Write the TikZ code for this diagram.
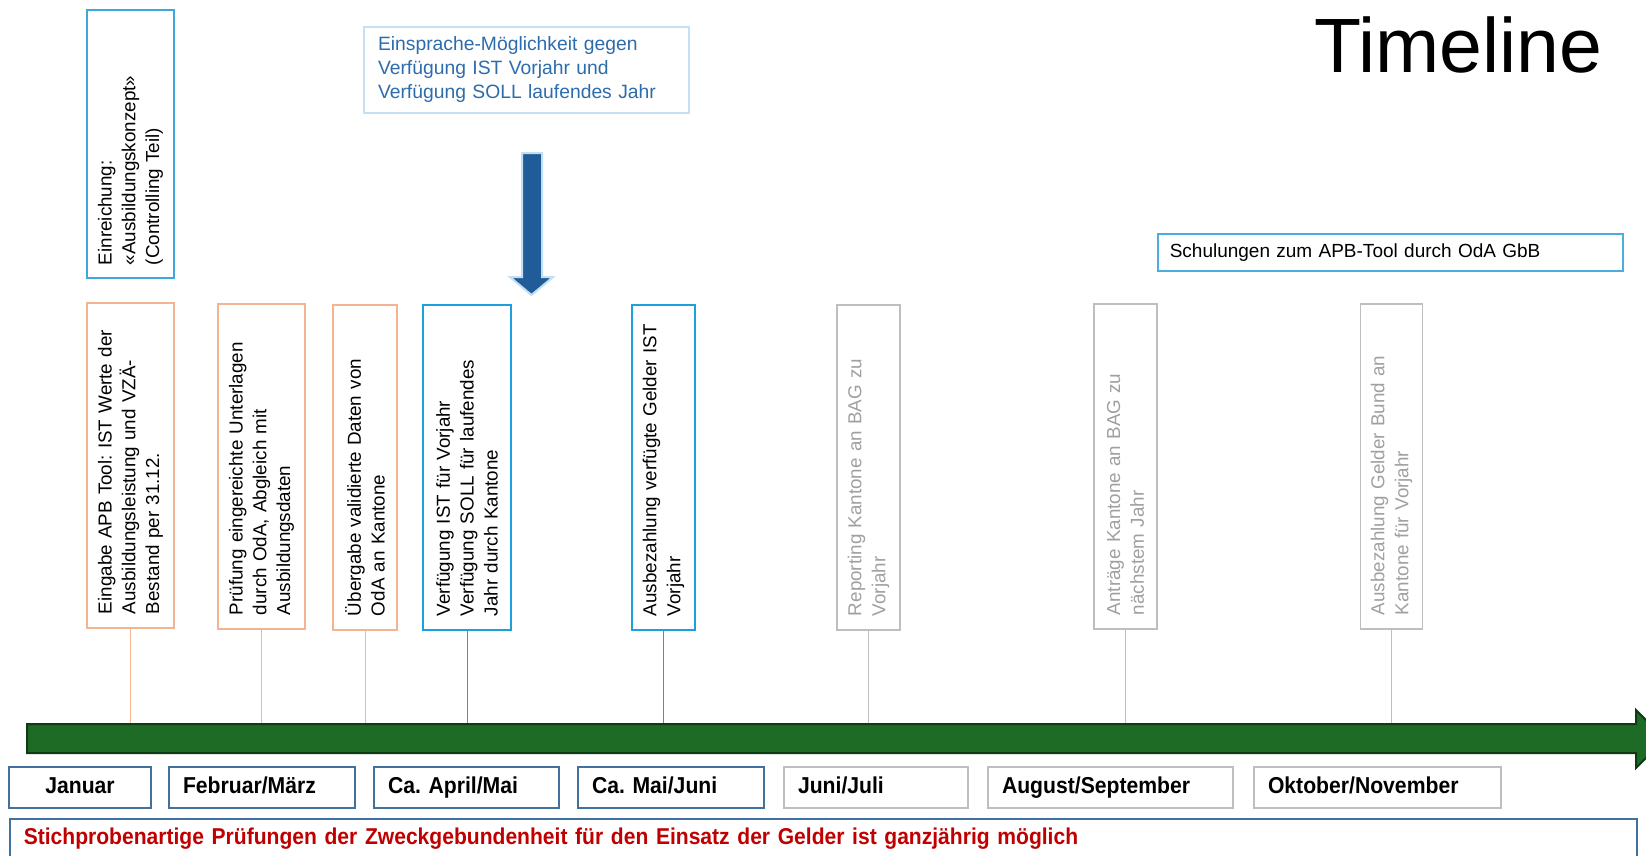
\documentclass[tikz,border=0pt]{standalone}
\usepackage{fontspec}
\setmainfont{Liberation Sans}
\newfontfamily\narrowfont[FakeStretch=0.92]{Liberation Sans}
\usetikzlibrary{positioning}
\frenchspacing
\definecolor{orB}{RGB}{245,180,145}
\definecolor{blB}{RGB}{30,160,220}
\definecolor{einB}{RGB}{60,168,222}
\definecolor{grB}{RGB}{190,190,190}
\definecolor{grT}{RGB}{160,160,160}
\definecolor{esB}{RGB}{195,225,242}
\definecolor{esT}{RGB}{44,108,172}
\definecolor{arrF}{RGB}{31,92,152}
\definecolor{arrB}{RGB}{195,222,242}
\definecolor{greenF}{RGB}{30,107,38}
\definecolor{greenB}{RGB}{14,58,20}
\definecolor{mB}{RGB}{65,113,156}
\definecolor{redT}{RGB}{192,0,0}
\definecolor{scB}{RGB}{75,172,224}
\newcommand{\vfont}{\frenchspacing\fontsize{18.8}{23.8}\selectfont}
\newcommand{\mfont}{\frenchspacing\narrowfont\bfseries\fontsize{23}{26}\selectfont}
\newcommand{\rfont}{\frenchspacing\narrowfont\bfseries\fontsize{22.9}{26}\selectfont}
\newcommand{\efont}{\frenchspacing\fontsize{19.3}{24}\selectfont}
\newcommand{\sfont}{\frenchspacing\fontsize{19}{22}\selectfont}
\newcommand{\tfont}{\fontsize{77}{80}\selectfont}
\begin{document}
\begin{tikzpicture}[x=1pt,y=-1pt,
  vbox/.style={rotate=90, draw, line width=1.3pt, align=left, inner xsep=14pt, inner ysep=0pt,
    minimum width=325pt, text width=297pt, font=\vfont},
  conn/.style={line width=1pt},
  mbox/.style={draw=mB, line width=1.5pt, minimum height=41pt, inner xsep=14pt, inner ysep=0pt,
    align=left, font=\mfont, text height=16.5pt, text depth=5pt},
  gbox/.style={mbox, draw=grB}
]
\clip (0,0) rectangle (1646,856);
\fill[white] (0,0) rectangle (1646,856);

% title
\node[font=\tfont, anchor=base west, inner sep=0pt] (title) at (1314,73) {Timeline};

% Einreichung box
\node[vbox, draw=einB, minimum width=268pt, text width=242pt, minimum height=87pt, inner xsep=13pt] (ein) at (130.5,144) {Einreichung:\\«Ausbildungskonzept»\\(Controlling Teil)};

% Einsprache box
\node[draw=esB, line width=1.3pt, minimum width=325pt, minimum height=86pt, text width=297pt,
  inner xsep=14pt, inner ysep=0pt, align=left, text=esT, font=\efont] (es) at (526.5,70)
  {Einsprache-Möglichkeit gegen\\Verfügung IST Vorjahr und\\Verfügung SOLL laufendes Jahr};

% blue block arrow
\draw[draw=arrB, line width=2pt, fill=arrF, line join=miter]
  (522,153) -- (542,153) -- (542,277) -- (553,277) -- (531.5,295) -- (510,277) -- (522,277) -- cycle;

% Schulungen box
\node[draw=scB, line width=1.5pt, minimum width=465pt, minimum height=37pt, text width=441pt,
  inner xsep=12pt, inner ysep=0pt, align=left, font=\sfont, anchor=north west] (sch) at (1157,233)
  {Schulungen zum APB-Tool durch OdA GbB};

% vertical boxes
\node[vbox, draw=orB, minimum height=87pt] (b1) at (130.5,465.5)
  {Eingabe APB Tool: IST Werte der\\Ausbildungsleistung und VZÄ-\\Bestand per 31.12.};
\node[vbox, draw=orB, minimum height=87pt] (b2) at (261.5,466.5)
  {Prüfung eingereichte Unterlagen\\durch OdA, Abgleich mit\\Ausbildungsdaten};
\node[vbox, draw=orB, minimum height=64pt] (b3) at (365,467.5)
  {Übergabe validierte Daten von\\OdA an Kantone};
\node[vbox, draw=blB, minimum height=88pt] (b4) at (467,467.5)
  {Verfügung IST für Vorjahr\\Verfügung SOLL für laufendes\\Jahr durch Kantone};
\node[vbox, draw=blB, minimum height=63pt] (b5) at (663.5,467.5)
  {Ausbezahlung verfügte Gelder IST\\Vorjahr};
\node[vbox, draw=grB, text=grT, minimum height=63pt] (b6) at (868.5,467.5)
  {Reporting Kantone an BAG zu\\Vorjahr};
\node[vbox, draw=grB, text=grT, minimum height=63pt] (b7) at (1125.5,466.5)
  {Anträge Kantone an BAG zu\\nächstem Jahr};
\node[vbox, draw=grB, text=grT, minimum height=62pt] (b8) at (1391.5,466.5)
  {Ausbezahlung Gelder Bund an\\Kantone für Vorjahr};

% timeline arrow top
\coordinate (tltop) at (0,724);

% connectors
\draw[conn, orB] (b1.west) -- (b1.west |- tltop);
\draw[conn, orB] (b2.west) -- (b2.west |- tltop);
\draw[conn, orB] (b3.west) -- (b3.west |- tltop);
\draw[conn, blB] (b4.west) -- (b4.west |- tltop);
\draw[conn, blB] (b5.west) -- (b5.west |- tltop);
\draw[conn, grB] (b6.west) -- (b6.west |- tltop);
\draw[conn, grB] (b7.west) -- (b7.west |- tltop);
\draw[conn, grB] (b8.west) -- (b8.west |- tltop);

% green timeline arrow
\draw[draw=greenB, line width=2pt, fill=greenF, line join=miter]
  (27,724) -- (1636,724) -- (1636,710) -- (1665,739) -- (1636,768) -- (1636,753) -- (27,753) -- cycle;

% month boxes
\node[mbox, minimum width=142pt, text width=114pt, align=center] (m1) at (80,787.5) {Januar};
\node[mbox, minimum width=186pt, text width=158pt] (m2) at (262,787.5) {Februar/März};
\node[mbox, minimum width=185pt, text width=157pt] (m3) at (466.5,787.5) {Ca. April/Mai};
\node[mbox, minimum width=186pt, text width=158pt] (m4) at (671,787.5) {Ca. Mai/Juni};
\node[gbox, minimum width=184pt, text width=156pt] (m5) at (876,787.5) {Juni/Juli};
\node[gbox, minimum width=245pt, text width=217pt] (m6) at (1110.5,787.5) {August/September};
\node[gbox, minimum width=247pt, text width=219pt] (m7) at (1377.5,787.5) {Oktober/November};

% red note box
\node[draw=mB, line width=1.5pt, minimum width=1627pt, minimum height=40pt, text width=1599pt,
  inner xsep=14pt, inner ysep=0pt, align=left, text=redT, font=\rfont, anchor=north west] (pr) at (9,818)
  {Stichprobenartige Prüfungen der Zweckgebundenheit für den Einsatz der Gelder ist ganzjährig möglich};
\end{tikzpicture}
\end{document}
